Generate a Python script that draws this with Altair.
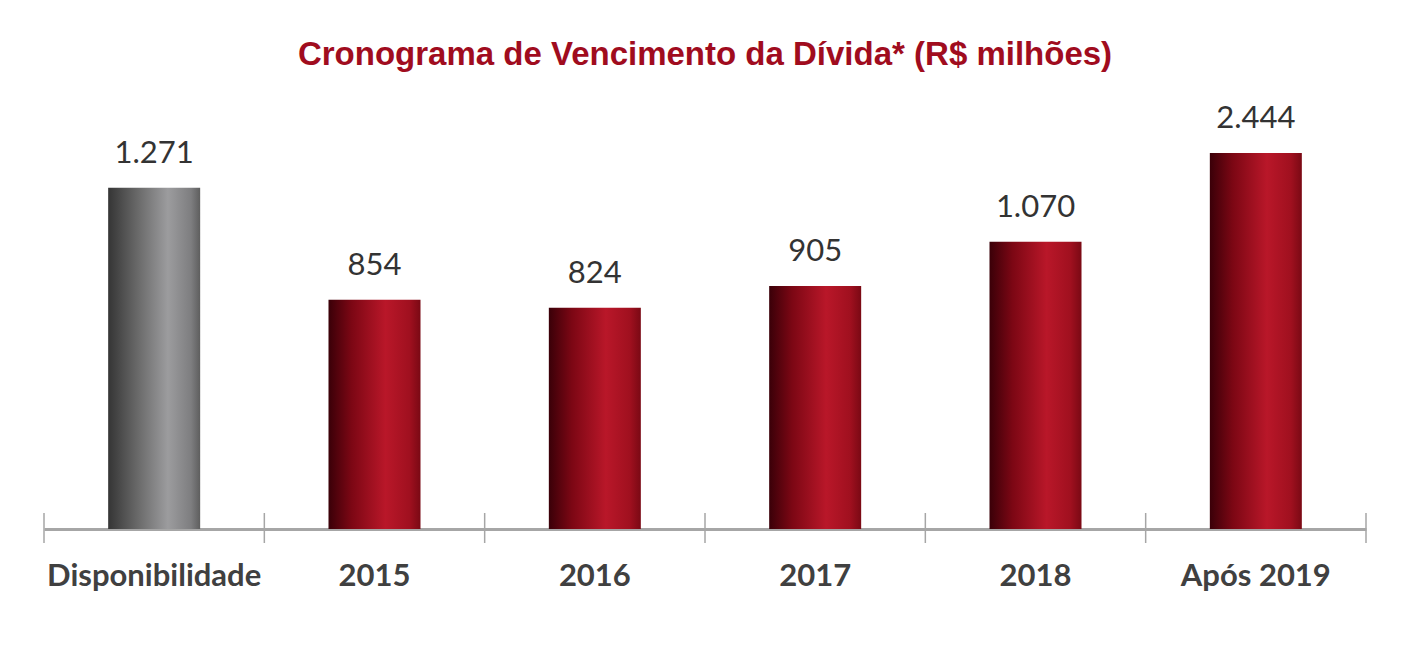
import altair as alt
import pandas as pd

categories = ["Disponibilidade", "2015", "2016", "2017", "2018", "Após 2019"]
values = [1271, 854, 824, 905, 1070, 2444]
labels = ["1.271", "854", "824", "905", "1.070", "2.444"]
kinds = ["caixa", "divida", "divida", "divida", "divida", "divida"]

df = pd.DataFrame({"cat": categories, "val": values, "lab": labels, "kind": kinds})

W, H = 1322, 376

red_grad = alt.Gradient(
    gradient="linear", x1=0, x2=1, y1=0, y2=0,
    stops=[
        alt.GradientStop(offset=0.0, color="#3a0008"),
        alt.GradientStop(offset=0.25, color="#7c0714"),
        alt.GradientStop(offset=0.62, color="#b91729"),
        alt.GradientStop(offset=0.88, color="#a0101f"),
        alt.GradientStop(offset=1.0, color="#7a0914"),
    ],
)
gray_grad = alt.Gradient(
    gradient="linear", x1=0, x2=1, y1=0, y2=0,
    stops=[
        alt.GradientStop(offset=0.0, color="#353535"),
        alt.GradientStop(offset=0.3, color="#666666"),
        alt.GradientStop(offset=0.65, color="#9c9c9e"),
        alt.GradientStop(offset=0.9, color="#7e7e80"),
        alt.GradientStop(offset=1.0, color="#5e5e5e"),
    ],
)

xenc = alt.X(
    "cat:N", sort=categories, title=None,
    scale=alt.Scale(paddingInner=0, paddingOuter=0),
    axis=alt.Axis(
        labelAngle=0, ticks=False, domainColor="#a6a6a6", domainWidth=3,
        labelFont="Lato", labelFontWeight="bold", labelFontSize=31,
        labelColor="#404040", labelPadding=32, labelLimit=0,
    ),
)
yenc = alt.Y(
    "val:Q", title=None,
    scale=alt.Scale(domain=[0, 1400], clamp=True, nice=False),
    axis=None,
)

base = alt.Chart(df)

bars_gray = base.transform_filter(alt.datum.kind == "caixa").mark_bar(
    size=92, color=gray_grad
).encode(x=xenc, y=yenc)
bars_red = base.transform_filter(alt.datum.kind == "divida").mark_bar(
    size=92, color=red_grad
).encode(x=xenc, y=yenc)

text = base.mark_text(
    font="Lato", fontSize=31, color="#333333", baseline="middle", dy=-34
).encode(x=xenc, y=yenc, text="lab:N")

ticks_left = base.mark_rule(color="#a6a6a6", strokeWidth=1.5).encode(
    x=alt.X("cat:N", sort=categories, bandPosition=0),
    y=alt.value(H - 16), y2=alt.value(H + 14),
)
ticks_right = base.transform_filter(alt.datum.cat == categories[-1]).mark_rule(
    color="#a6a6a6", strokeWidth=1.5
).encode(
    x=alt.X("cat:N", sort=categories, bandPosition=1),
    y=alt.value(H - 16), y2=alt.value(H + 14),
)

chart = alt.layer(bars_gray, bars_red, text, ticks_left, ticks_right).properties(
    width=W, height=H,
    title=alt.TitleParams(
        "Cronograma de Vencimento da Dívida* (R$ milhões)",
        font="Liberation Sans", fontSize=33, fontWeight="bold",
        color="#a00c1e", offset=31, anchor="middle",
    ),
    autosize=alt.AutoSizeParams(type="none"),
    padding={"left": 36, "top": 145, "right": 45, "bottom": 116},
).configure_view(stroke=None)

chart.save("out.html", embed_options={"renderer": "svg", "actions": False})
